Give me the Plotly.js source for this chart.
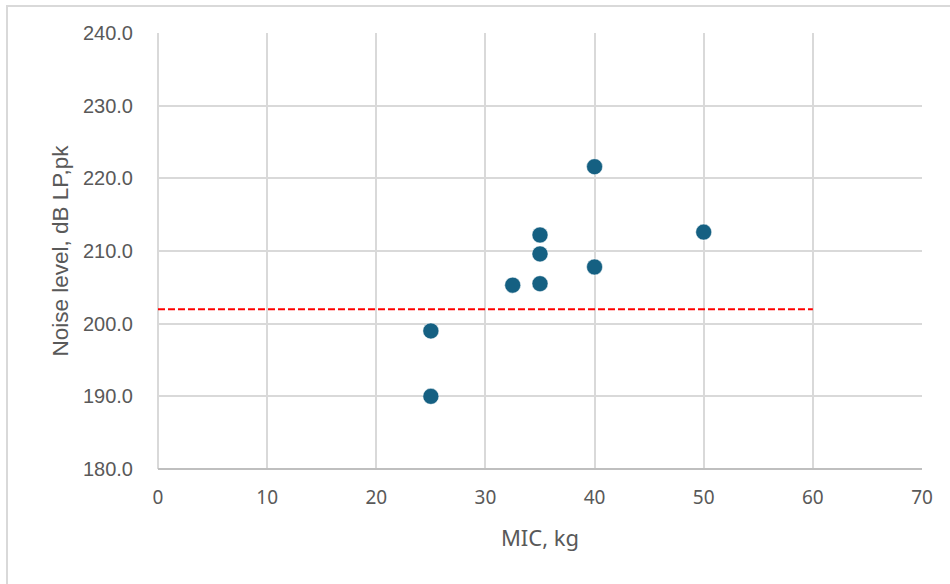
<!DOCTYPE html>
<html>
<head>
<meta charset="utf-8">
<script src="https://cdn.plot.ly/plotly-3.0.1.min.js"></script>
<style>
html,body{margin:0;padding:0;background:#fff;}
#wrap{position:relative;width:950px;height:584px;overflow:hidden;}
#chart{width:950px;height:584px;}
#frame{position:absolute;left:6px;top:5px;width:980px;height:620px;border:2px solid #d9d9d9;pointer-events:none;box-sizing:border-box;}
</style>
</head>
<body>
<div id="wrap"><div id="chart"></div><div id="frame"></div></div>
<script>
const micKg = [25, 25, 32.5, 35, 35, 35, 40, 40, 50];
const noiseDb = [199.0, 190.0, 205.3, 212.2, 209.6, 205.5, 221.6, 207.8, 212.6];
const limitX = [0, 60];
const limitY = [202, 202];
const xTitle = 'MIC, kg';
const yTitle = 'Noise level, dB LP,pk';

const yFont = {family: 'Liberation Sans, Arial, sans-serif', size: 20, color: '#595959'};
const yTitleFont = {family: 'Liberation Sans, Arial, sans-serif', size: 22.5, color: '#595959'};
const xFont = {family: 'Noto Sans, Liberation Sans, sans-serif', size: 19, color: '#595959'};
const xTitleFont = {family: 'Noto Sans, Liberation Sans, sans-serif', size: 22, color: '#595959'};

const traces = [
  {
    x: limitX, y: limitY, type: 'scatter', mode: 'lines',
    line: {color: '#ff0000', width: 2, dash: '7px,3px'},
    hoverinfo: 'skip', showlegend: false
  },
  {
    x: micKg, y: noiseDb, type: 'scatter', mode: 'markers',
    marker: {color: '#156082', size: 16, line: {color: '#ffffff', width: 0.5}},
    showlegend: false
  }
];

const layout = {
  width: 950, height: 584,
  margin: {l: 158, r: 28, t: 33, b: 115},
  paper_bgcolor: '#ffffff', plot_bgcolor: '#ffffff',
  font: yFont,
  showlegend: false,
  xaxis: {
    range: [0, 70], dtick: 10, tick0: 0,
    showgrid: true, gridcolor: '#d9d9d9', gridwidth: 2,
    zeroline: true, zerolinecolor: '#d9d9d9', zerolinewidth: 2,
    showline: false,
    ticks: 'outside', ticklen: 11, tickcolor: 'rgba(0,0,0,0)',
    tickfont: xFont,
    title: {text: xTitle, font: xTitleFont, standoff: 21},
    automargin: false, fixedrange: true
  },
  yaxis: {
    range: [180, 240], dtick: 10, tick0: 180,
    tickformat: '.1f',
    showgrid: true, gridcolor: '#d9d9d9', gridwidth: 2,
    zeroline: false,
    showline: false,
    ticks: 'outside', ticklen: 20, tickcolor: 'rgba(0,0,0,0)',
    tickfont: yFont,
    title: {text: yTitle, font: yTitleFont, standoff: 8},
    automargin: false, fixedrange: true
  },
  shapes: [
    {type: 'line', xref: 'paper', yref: 'paper', x0: 0, x1: 1, y0: 0, y1: 0,
     line: {color: '#bfbfbf', width: 2}}
  ]
};

Plotly.newPlot('chart', traces, layout, {displayModeBar: false, staticPlot: true});
</script>
</body>
</html>
